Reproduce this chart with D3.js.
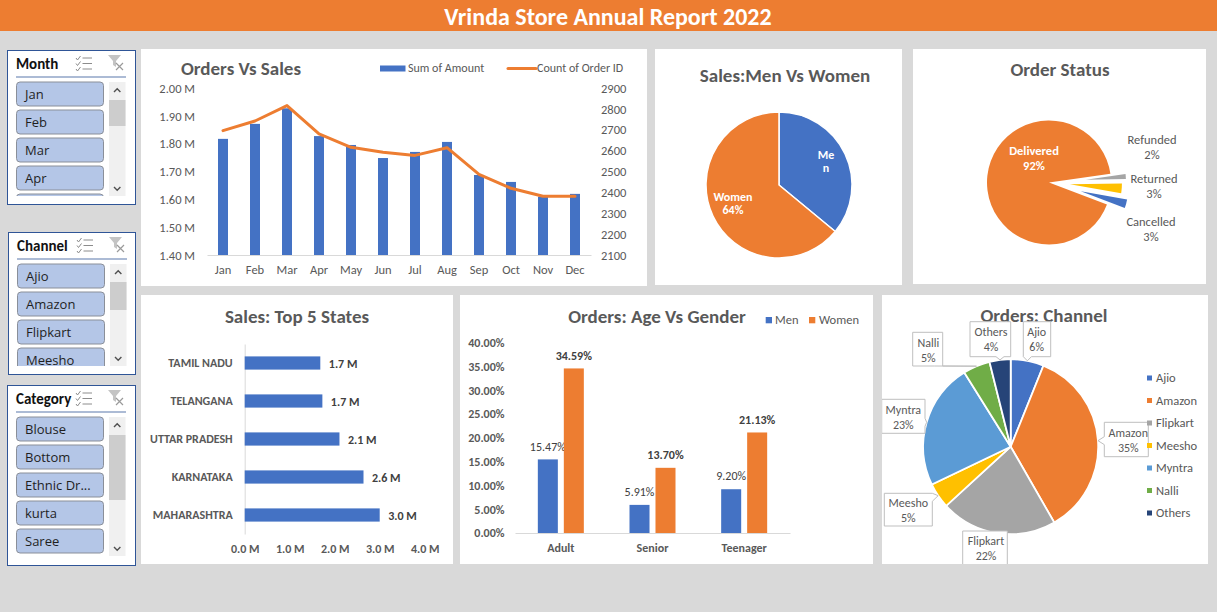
<!DOCTYPE html>
<html><head><meta charset="utf-8">
<script src="https://cdn.jsdelivr.net/npm/d3@7/dist/d3.min.js"></script>
<style>html,body{margin:0;padding:0;background:#D9D9D9}svg{display:block}text{font-family:Carlito,Calibri,Lato,sans-serif}</style>
</head><body><svg id="c" width="1217" height="612"></svg>
<script>
// ---------- data ----------
const reportTitle = "Vrinda Store Annual Report 2022";
const months = ["Jan","Feb","Mar","Apr","May","Jun","Jul","Aug","Sep","Oct","Nov","Dec"];
const sumOfAmount = [1.818,1.872,1.928,1.828,1.796,1.749,1.771,1.807,1.688,1.663,1.61,1.62];
const countOfOrders = [2697,2743,2817,2681,2617,2593,2578,2615,2487,2420,2382,2382];
const amountTicks = [1.4,1.5,1.6,1.7,1.8,1.9,2.0];
const orderTicks = [2100,2200,2300,2400,2500,2600,2700,2800,2900];
const genderLabels = ["Men","Women"];
const genderSales = [36,64];
const statusLabels = ["Cancelled","Delivered","Refunded","Returned"];
const statusValues = [3,92,2,3];
const states = ["TAMIL NADU","TELANGANA","UTTAR PRADESH","KARNATAKA","MAHARASHTRA"];
const stateSales = [1.68,1.726,2.106,2.64,3.0];
const stateTicks = [0,1,2,3,4];
const ageGroups = ["Adult","Senior","Teenager"];
const ageMen = [15.47,5.91,9.20];
const ageWomen = [34.59,13.70,21.13];
const ageTicks = [0,5,10,15,20,25,30,35,40];
const channels = ["Ajio","Amazon","Flipkart","Meesho","Myntra","Nalli","Others"];
const channelValues = [6.1,35.6,21.5,4.7,23.2,5,3.9];
const channelPercent = ["6%","35%","22%","5%","23%","5%","4%"];
const slicerMonth = ["Jan","Feb","Mar","Apr",""];
const slicerChannel = ["Ajio","Amazon","Flipkart","Meesho"];
const slicerCategory = ["Blouse","Bottom","Ethnic Dr...","kurta","Saree"];

// ---------- style ----------
const BLUE="#4472C4",ORANGE="#ED7D31",GRAY="#A5A5A5",GOLD="#FFC000",SKY="#5B9BD5",GREEN="#70AD47",NAVY="#264478";
const TXT="#595959",DARK="#404040",AX="#D9D9D9";
const FONT="Carlito,Calibri,Lato,sans-serif";
const svg=d3.select("#c");
const rad=d=>d*Math.PI/180;
function T(g,x,y,s,size,opt={}){
  const t=g.append("text").attr("x",x).attr("y",y).attr("dy","0.35em").text(s)
   .attr("font-size",size).attr("fill",opt.fill||TXT).attr("font-weight",opt.w||400)
   .attr("text-anchor",opt.a||"middle");
  if(opt.f) t.style("font-family",opt.f);
  return t;
}
function panel(x0,y0,x1,y1,id){
  svg.append("rect").attr("x",x0).attr("y",y0).attr("width",x1-x0).attr("height",y1-y0).attr("fill","#fff");
  svg.append("clipPath").attr("id",id).append("rect").attr("x",x0).attr("y",y0).attr("width",x1-x0).attr("height",y1-y0);
  return svg.append("g").attr("clip-path",`url(#${id})`);
}

// header
svg.append("rect").attr("width",1217).attr("height",31).attr("fill",ORANGE);
T(svg,608,17,reportTitle,24,{fill:"#fff",w:700});

// ---------- slicers ----------
function slicer(o){
  const g=svg.append("g");
  g.append("rect").attr("x",o.x0+.5).attr("y",o.y0+.5).attr("width",o.x1-o.x0).attr("height",o.y1-o.y0).attr("fill","#fff").attr("stroke","#2F5597").attr("stroke-width",1);
  T(g,o.tx,o.ty,o.title,15,{fill:"#111",w:700,a:"start"});
  g.append("line").attr("x1",o.bx).attr("x2",o.bx+110).attr("y1",o.ly).attr("y2",o.ly).attr("stroke","#2F5597").attr("stroke-opacity",.8);
  // multi-select icon
  const ic=g.append("g").attr("transform",`translate(${o.bx+60},${o.ty-8})`).attr("fill","none").attr("stroke","#8c8c8c").attr("stroke-width",1);
  [2,7.5,13].forEach(y=>{
    ic.append("path").attr("d",`M0 ${y}l1.5 2l3 -4`);
    ic.append("line").attr("x1",6.5).attr("x2",16).attr("y1",y).attr("y2",y);
  });
  // clear filter icon
  const fi=g.append("g").attr("transform",`translate(${o.bx+92},${o.ty-9})`);
  fi.append("path").attr("d","M0 0h13l-5 6v6l-3 -2v-4z").attr("fill","#c4c4c4");
  fi.append("path").attr("d","M8 8l7 7M15 8l-7 7").attr("stroke","#9a9a9a").attr("stroke-width",1.2);
  // buttons
  const id="sc"+o.title;
  svg.append("clipPath").attr("id",id).append("rect").attr("x",o.bx-1).attr("y",o.by-1).attr("width",95).attr("height",o.sb-o.by+1);
  const bg=g.append("g").attr("clip-path",`url(#${id})`);
  o.items.forEach((s,i)=>{
    const y=o.by+i*28;
    bg.append("rect").attr("x",o.bx+.5).attr("y",y).attr("width",87).attr("height",24).attr("rx",3.5)
      .attr("fill","#B4C6E7").attr("stroke","#8A8F99");
    if(s) T(bg,o.bx+9,y+12.5,s,13,{fill:"#1f1f1f",a:"start",f:"'Open Sans',sans-serif"});
  });
  // scroll bar
  const sx=o.bx+93;
  g.append("rect").attr("x",sx).attr("y",o.by).attr("width",16.5).attr("height",o.sb-o.by).attr("fill","#F0F0F0");
  g.append("rect").attr("x",sx).attr("y",o.by+18).attr("width",16.5).attr("height",o.th).attr("fill","#CDCDCD");
  g.append("path").attr("d",`M${sx+5} ${o.by+10}l3.2 -3.2l3.2 3.2`).attr("fill","none").attr("stroke","#505050").attr("stroke-width",1.4);
  g.append("path").attr("d",`M${sx+5} ${o.sb-9}l3.2 3.2l3.2 -3.2`).attr("fill","none").attr("stroke","#505050").attr("stroke-width",1.4);
}
slicer({title:"Month",items:slicerMonth,x0:7,x1:135,y0:50,y1:204,tx:16,ty:64,ly:77,bx:16,by:82,sb:196,th:26});
slicer({title:"Channel",items:slicerChannel,x0:8,x1:135,y0:232,y1:374,tx:17,ty:246,ly:259,bx:17,by:264,sb:366,th:28});
slicer({title:"Category",items:slicerCategory,x0:7,x1:135,y0:385,y1:565,tx:16,ty:399,ly:412,bx:16,by:417,sb:556,th:65});

// ---------- Orders Vs Sales ----------
{
  const g=panel(141,49,647,286,"p1");
  T(g,241,68.5,"Orders Vs Sales",19,{w:700});
  const x=d3.scaleBand().domain(months).range([207,591]);
  const yL=d3.scaleLinear().domain([1.4,2.0]).range([255,88.3]);
  const yR=d3.scaleLinear().domain([2100,2900]).range([255,88.3]);
  const axL=g.append("g").attr("transform","translate(207,0)").call(d3.axisLeft(yL).tickValues(amountTicks).tickFormat(d=>d3.format(".2f")(d)+" M").tickSize(0).tickPadding(12));
  const axR=g.append("g").attr("transform","translate(591,0)").call(d3.axisRight(yR).tickValues(orderTicks).tickFormat(d3.format("d")).tickSize(0).tickPadding(10));
  const axB=g.append("g").attr("transform","translate(0,255)").call(d3.axisBottom(x).tickSize(0).tickPadding(10));
  [axL,axR,axB].forEach(a=>{a.selectAll("text").attr("font-size",12.5).attr("fill",TXT).attr("font-family",FONT);});
  axL.select(".domain").remove();axR.select(".domain").remove();
  axB.select(".domain").attr("stroke",AX);
  g.selectAll(".bar").data(months).enter().append("rect")
    .attr("x",d=>x(d)+x.bandwidth()/2-5).attr("width",10)
    .attr("y",(d,i)=>yL(sumOfAmount[i])).attr("height",(d,i)=>255-yL(sumOfAmount[i])).attr("fill",BLUE);
  const line=d3.line().x((d,i)=>x(months[i])+x.bandwidth()/2).y(d=>yR(d));
  g.append("path").attr("d",line(countOfOrders)).attr("fill","none").attr("stroke",ORANGE).attr("stroke-width",3).attr("stroke-linecap","round").attr("stroke-linejoin","round");
  g.append("rect").attr("x",380).attr("y",65.5).attr("width",25.5).attr("height",6).attr("fill",BLUE);
  T(g,408,68,"Sum of Amount",12,{a:"start"});
  g.append("line").attr("x1",508).attr("x2",536).attr("y1",68.5).attr("y2",68.5).attr("stroke",ORANGE).attr("stroke-width",3).attr("stroke-linecap","round");
  T(g,537,68,"Count of Order ID",12,{a:"start"});
}

// ---------- Men vs Women ----------
{
  const g=panel(655,49,902,285,"p2");
  T(g,785,75,"Sales:Men Vs Women",19,{w:700});
  const pie=d3.pie().sort(null)(genderSales);
  const arc=d3.arc().innerRadius(0).outerRadius(73);
  g.append("g").attr("transform","translate(779,185)").selectAll("path").data(pie).enter().append("path")
    .attr("d",arc).attr("fill",(d,i)=>[BLUE,ORANGE][i]).attr("stroke","#fff").attr("stroke-width",1.5);
  T(g,826,154.5,"Me",12,{fill:"#fff",w:700});
  T(g,826,168,"n",12,{fill:"#fff",w:700});
  T(g,733,196.5,genderLabels[1],12,{fill:"#fff",w:700});
  T(g,733,210,genderSales[1]+"%",12,{fill:"#fff",w:700});
}

// ---------- Order Status ----------
{
  const g=panel(913,49,1206,284,"p3");
  T(g,1060,69.5,"Order Status",19,{w:700});
  const cx=1049,cy=182.5;
  const pie=d3.pie().sort(null).startAngle(rad(100)).endAngle(rad(460))(statusValues);
  const offset=[33,0,37,21], outer=[47,62,40,52], fills=[BLUE,ORANGE,GRAY,GOLD];
  pie.forEach((d,i)=>{
    const a=(d.startAngle+d.endAngle)/2;
    g.append("path").attr("d",d3.arc().innerRadius(0).outerRadius(outer[i])(d))
     .attr("transform",`translate(${cx+offset[i]*Math.sin(a)},${cy-offset[i]*Math.cos(a)})`).attr("fill",fills[i]);
  });
  const lab=[[1151,222],[1034,151],[1152,140],[1154,179]];
  statusLabels.forEach((s,i)=>{
    const o=i===1?{fill:"#fff",w:700}:{};
    T(g,lab[i][0],lab[i][1],s,12.5,o);
    T(g,lab[i][0],lab[i][1]+15,statusValues[i]+"%",12.5,o);
  });
}

// ---------- Top 5 States ----------
{
  const g=panel(141,295,453,564,"p4");
  T(g,297,316.5,"Sales: Top 5 States",19,{w:700});
  const x=d3.scaleLinear().domain([0,4]).range([244.7,424.7]);
  const y=d3.scaleBand().domain(states).range([344,534]);
  const axB=g.append("g").attr("transform","translate(0,534)").call(d3.axisBottom(x).tickValues(stateTicks).tickFormat(d=>d3.format(".1f")(d)+" M").tickSize(0).tickPadding(10));
  axB.select(".domain").remove();
  axB.selectAll("text").attr("font-size",12).attr("font-weight",700).attr("fill",TXT).attr("font-family",FONT);
  const axL=g.append("g").attr("transform","translate(244.7,0)").call(d3.axisLeft(y).tickSize(0).tickPadding(12));
  axL.select(".domain").attr("stroke",AX);
  axL.selectAll("text").attr("font-size",12).attr("font-weight",700).attr("fill",TXT).attr("font-family",FONT);
  states.forEach((s,i)=>{
    const yc=y(s)+y.bandwidth()/2;
    g.append("rect").attr("x",x(0)).attr("y",yc-6.6).attr("width",x(stateSales[i])-x(0)).attr("height",13.2).attr("fill",BLUE);
    T(g,x(stateSales[i])+8.5,yc+.5,d3.format(".1f")(stateSales[i])+" M",12,{a:"start",w:700,fill:DARK});
  });
}

// ---------- Age vs Gender ----------
{
  const g=panel(460,295,873,564,"p5");
  T(g,657,316.5,"Orders: Age Vs Gender",19,{w:700});
  const x=d3.scaleBand().domain(ageGroups).range([515,790]);
  const y=d3.scaleLinear().domain([0,40]).range([533,342.7]);
  const axL=g.append("g").attr("transform","translate(515,0)").call(d3.axisLeft(y).tickValues(ageTicks).tickFormat(d=>d3.format(".2f")(d)+"%").tickSize(0).tickPadding(10.5));
  axL.select(".domain").remove();
  axL.selectAll("text").attr("font-size",12).attr("font-weight",700).attr("fill",TXT).attr("font-family",FONT);
  const axB=g.append("g").attr("transform","translate(0,533)").call(d3.axisBottom(x).tickSize(0).tickPadding(10));
  axB.select(".domain").attr("stroke",AX);
  axB.selectAll("text").attr("font-size",12).attr("font-weight",700).attr("fill",TXT).attr("font-family",FONT);
  const sub=d3.scaleBand().domain(genderLabels).range([-23,23]).paddingInner(.23);
  ageGroups.forEach((a,i)=>{
    const c=x(a)+x.bandwidth()/2;
    [[ "Men",ageMen[i],BLUE,400],["Women",ageWomen[i],ORANGE,700]].forEach(([k,v,f,w])=>{
      g.append("rect").attr("x",c+sub(k)).attr("width",sub.bandwidth()).attr("y",y(v)).attr("height",533-y(v)).attr("fill",f);
      T(g,c+sub(k)+sub.bandwidth()/2,y(v)-13,d3.format(".2f")(v)+"%",12,{w,fill:DARK});
    });
  });
  g.append("rect").attr("x",765.7).attr("y",317).attr("width",6.3).attr("height",6.3).attr("fill",BLUE);
  T(g,775,319.5,genderLabels[0],12.5,{a:"start"});
  g.append("rect").attr("x",809).attr("y",317).attr("width",6.3).attr("height",6.3).attr("fill",ORANGE);
  T(g,819,319.5,genderLabels[1],12.5,{a:"start"});
}

// ---------- Channel ----------
{
  const g=panel(882,295,1208,564,"p6");
  T(g,1044,315,"Orders: Channel",19,{w:700});
  const cx=1010.7,cy=446.7,r=87.5;
  const fills=[BLUE,ORANGE,GRAY,GOLD,SKY,GREEN,NAVY];
  const pie=d3.pie().sort(null)(channelValues);
  const arc=d3.arc().innerRadius(0).outerRadius(r);
  g.append("g").attr("transform",`translate(${cx},${cy})`).selectAll("path").data(pie).enter().append("path")
    .attr("d",arc).attr("fill",(d,i)=>fills[i]).attr("stroke","#fff").attr("stroke-width",1.8);
  // callout boxes [x0,y0,x1,y1]
  const boxes=[[1023.3,321.7,1050.7,356.7],[1104.3,422.3,1148.3,456.7],[962.7,531,1007.3,572],[884.3,493.3,932.3,526],[881.7,399.3,925,433.3],[912.7,332.3,942.7,366],[970,321.7,1010.7,356.7]];
  channels.forEach((s,i)=>{
    const [x0,y0,x1,y1]=boxes[i],d=pie[i],a=(d.startAngle+d.endAngle)/2;
    const ax=cx+r*Math.sin(a),ay=cy-r*Math.cos(a);
    let p;
    const b=4;
    if(ay>y1){const m=Math.max(x0+b,Math.min(x1-b,ax));p=`M${x0} ${y0}H${x1}V${y1}H${m+b}L${ax} ${ay}L${m-b} ${y1}H${x0}Z`;}
    else if(ax>x1){const m=Math.max(y0+b,Math.min(y1-b,ay));p=`M${x0} ${y0}H${x1}V${m-b}L${ax} ${ay}L${x1} ${m+b}V${y1}H${x0}Z`;}
    else if(ax<x0){const m=Math.max(y0+b,Math.min(y1-b,ay));p=`M${x0} ${y0}H${x1}V${y1}H${x0}V${m+b}L${ax} ${ay}L${x0} ${m-b}Z`;}
    else p=`M${x0} ${y0}H${x1}V${y1}H${x0}Z`;
    g.append("path").attr("d",p).attr("fill","#fff").attr("stroke","#BFBFBF").attr("stroke-width",1);
    const xc=[1036.7,1128.3,986,908.3,903.3,928.3,991][i],yc=[332,432.3,541,502.3,409.3,342.3,332][i];
    T(g,xc,yc,s,12);
    T(g,xc,yc+15,channelPercent[i],12);
  });
  channels.forEach((s,i)=>{
    const y=378+i*22.5;
    g.append("rect").attr("x",1147).attr("y",y-2.5).attr("width",5).attr("height",5).attr("fill",fills[i]);
    T(g,1156,y,s,12.5,{a:"start"});
  });
}
</script></body></html>
